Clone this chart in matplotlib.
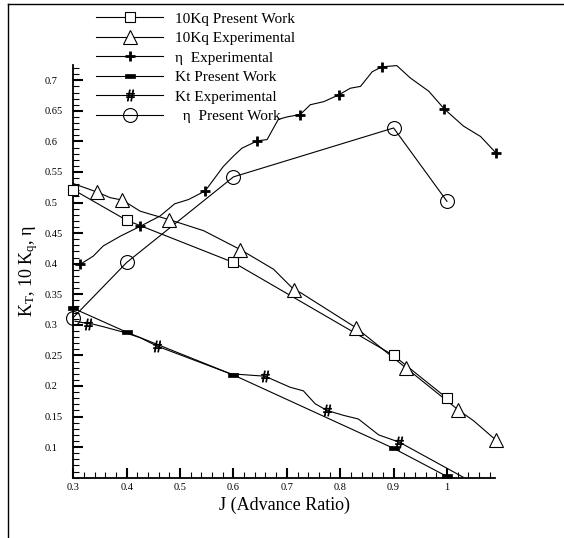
import numpy as np
import matplotlib
matplotlib.use("Agg")
import matplotlib.pyplot as plt
from matplotlib.lines import Line2D
from matplotlib.ticker import MultipleLocator, FuncFormatter

plt.rcParams['font.family'] = ['Liberation Serif', 'DejaVu Serif']
plt.rcParams['mathtext.fontset'] = 'custom'
plt.rcParams['mathtext.rm'] = 'Liberation Serif'
plt.rcParams['mathtext.it'] = 'Liberation Serif:italic'

# 10Kq present work
kq_pw_j = [0.3, 0.4, 0.6, 0.9, 1.0]
kq_pw = [0.521, 0.471, 0.402, 0.250, 0.180]

# 10Kq experimental (line points, marker indices)
kq_ex_j = [0.3, 0.345, 0.369, 0.392, 0.425, 0.444, 0.48, 0.544, 0.613, 0.675,
           0.714, 0.725, 0.83, 0.924, 1.021, 1.05, 1.091]
kq_ex = [0.531, 0.517, 0.508, 0.504, 0.486, 0.481, 0.472, 0.454, 0.423, 0.391,
         0.357, 0.353, 0.295, 0.229, 0.161, 0.143, 0.112]
kq_ex_marks = [1, 3, 6, 8, 10, 12, 13, 14, 16]

# eta experimental
eta_ex_j = [0.313, 0.3375, 0.356, 0.388, 0.425, 0.4625, 0.49, 0.516, 0.547, 0.581,
            0.6, 0.616, 0.645, 0.663, 0.684, 0.7, 0.725, 0.744, 0.769, 0.797,
            0.819, 0.838, 0.86, 0.878, 0.906, 0.931, 0.966, 0.995, 1.031, 1.063, 1.092]
eta_ex = [0.399, 0.4125, 0.429, 0.445, 0.461, 0.478, 0.498, 0.505, 0.519, 0.559,
          0.576, 0.589, 0.601, 0.603, 0.636, 0.640, 0.644, 0.660, 0.665, 0.676,
          0.687, 0.690, 0.714, 0.722, 0.724, 0.704, 0.682, 0.653, 0.625, 0.608, 0.581]
eta_ex_marks = [0, 4, 8, 12, 16, 19, 23, 27, 30]

# Kt present work
kt_pw_j = [0.3, 0.4, 0.6, 0.9, 1.0]
kt_pw = [0.327, 0.288, 0.218, 0.098, 0.052]

# Kt experimental
kt_ex_j = [0.303, 0.328, 0.3375, 0.356, 0.394, 0.425, 0.4575, 0.594, 0.659, 0.706,
           0.731, 0.753, 0.775, 0.806, 0.834, 0.872, 0.911, 1.03]
kt_ex = [0.306, 0.302, 0.301, 0.297, 0.288, 0.279, 0.265, 0.220, 0.216, 0.198,
         0.192, 0.171, 0.160, 0.152, 0.146, 0.120, 0.108, 0.051]
kt_ex_marks = [1, 6, 8, 12, 16]

# eta present work
eta_pw_j = [0.3, 0.4, 0.6, 0.9, 1.0]
eta_pw = [0.312, 0.402, 0.542, 0.622, 0.502]

labels = ['10Kq Present Work', '10Kq Experimental', '\u03b7  Experimental',
          'Kt Present Work', 'Kt Experimental', '  \u03b7  Present Work']

dash_box = [(-1, -0.45), (1, -0.45), (1, 0.45), (-1, 0.45), (-1, -0.45)]
styles = [
    dict(marker='s', ms=7.5, mfc='white', mec='black', mew=0.8),
    dict(marker='^', ms=9.5, mfc='white', mec='black', mew=0.8),
    dict(marker='+', ms=7, mec='black', mew=2.0),
    dict(marker=dash_box, ms=6.5, mfc='black', mec='black', mew=0.5),
    dict(marker=r'$\#$', ms=8, mfc='black', mec='black', mew=0.6),
    dict(marker='o', ms=10, mfc='none', mec='black', mew=0.8),
]
lw = 0.8

fig = plt.figure(figsize=(5.64, 5.38), dpi=100)
ax = fig.add_axes([0.13, 0.1121, 0.7477, 0.7671])

series = [
    (kq_pw_j, kq_pw, None),
    (kq_ex_j, kq_ex, kq_ex_marks),
    (eta_ex_j, eta_ex, eta_ex_marks),
    (kt_pw_j, kt_pw, None),
    (kt_ex_j, kt_ex, kt_ex_marks),
    (eta_pw_j, eta_pw, None),
]
for (xs, ys, marks), st in zip(series, styles):
    ax.plot(xs, ys, color='black', lw=lw, clip_on=False, zorder=2)
    xs = np.asarray(xs)
    ys = np.asarray(ys)
    if marks is not None:
        xs, ys = xs[marks], ys[marks]
    ax.plot(xs, ys, ls='none', clip_on=False, zorder=3, **st)

handles = [Line2D([], [], color='black', lw=lw, **st) for st in styles]
fig.legend(handles, labels, loc='upper left', bbox_to_anchor=(96 / 564, 1 - 12 / 538),
           frameon=False, fontsize=11, handlelength=4.4, handletextpad=0.75,
           labelspacing=0.38, borderpad=0, borderaxespad=0, numpoints=1)

ax.set_xlim(0.3, 1.09)
ax.set_ylim(0.05, 0.725)
ax.set_xticks(np.round(np.arange(0.3, 1.01, 0.1), 2))
ax.set_yticks(np.round(np.arange(0.1, 0.71, 0.05), 2))
ax.xaxis.set_minor_locator(MultipleLocator(0.02))
ax.yaxis.set_minor_locator(MultipleLocator(0.01))
fmt = FuncFormatter(lambda v, _: f'{v:g}')
ax.xaxis.set_major_formatter(fmt)
ax.yaxis.set_major_formatter(fmt)

for side in ['top', 'right']:
    ax.spines[side].set_visible(False)
for side in ['left', 'bottom']:
    ax.spines[side].set_linewidth(1.3)

ax.tick_params(which='major', direction='in', length=7, width=1.5, labelsize=7.5)
ax.tick_params(which='minor', direction='in', length=4, width=0.8)
ax.tick_params(axis='x', which='major', pad=4)
ax.tick_params(axis='y', which='major', pad=21)
for lbl in ax.get_yticklabels():
    lbl.set_horizontalalignment('left')

ax.set_xlabel('J (Advance Ratio)', fontsize=13)
ax.xaxis.set_label_coords(0.5, -0.045)
ax.set_ylabel('K$_\\mathrm{T}$, 10 K$_\\mathrm{q}$, \u03b7', fontsize=13)
ax.yaxis.set_label_coords(-0.08, 0.5)

# outer frame (top and left edges)
fig.add_artist(Line2D([7.5 / 564, 7.5 / 564], [0, 1 - 4 / 538], color='black', lw=1.0,
                      transform=fig.transFigure))
fig.add_artist(Line2D([7.5 / 564, 1], [1 - 4 / 538, 1 - 4 / 538], color='black', lw=1.0,
                      transform=fig.transFigure))

fig.savefig('out.png', dpi=100)
